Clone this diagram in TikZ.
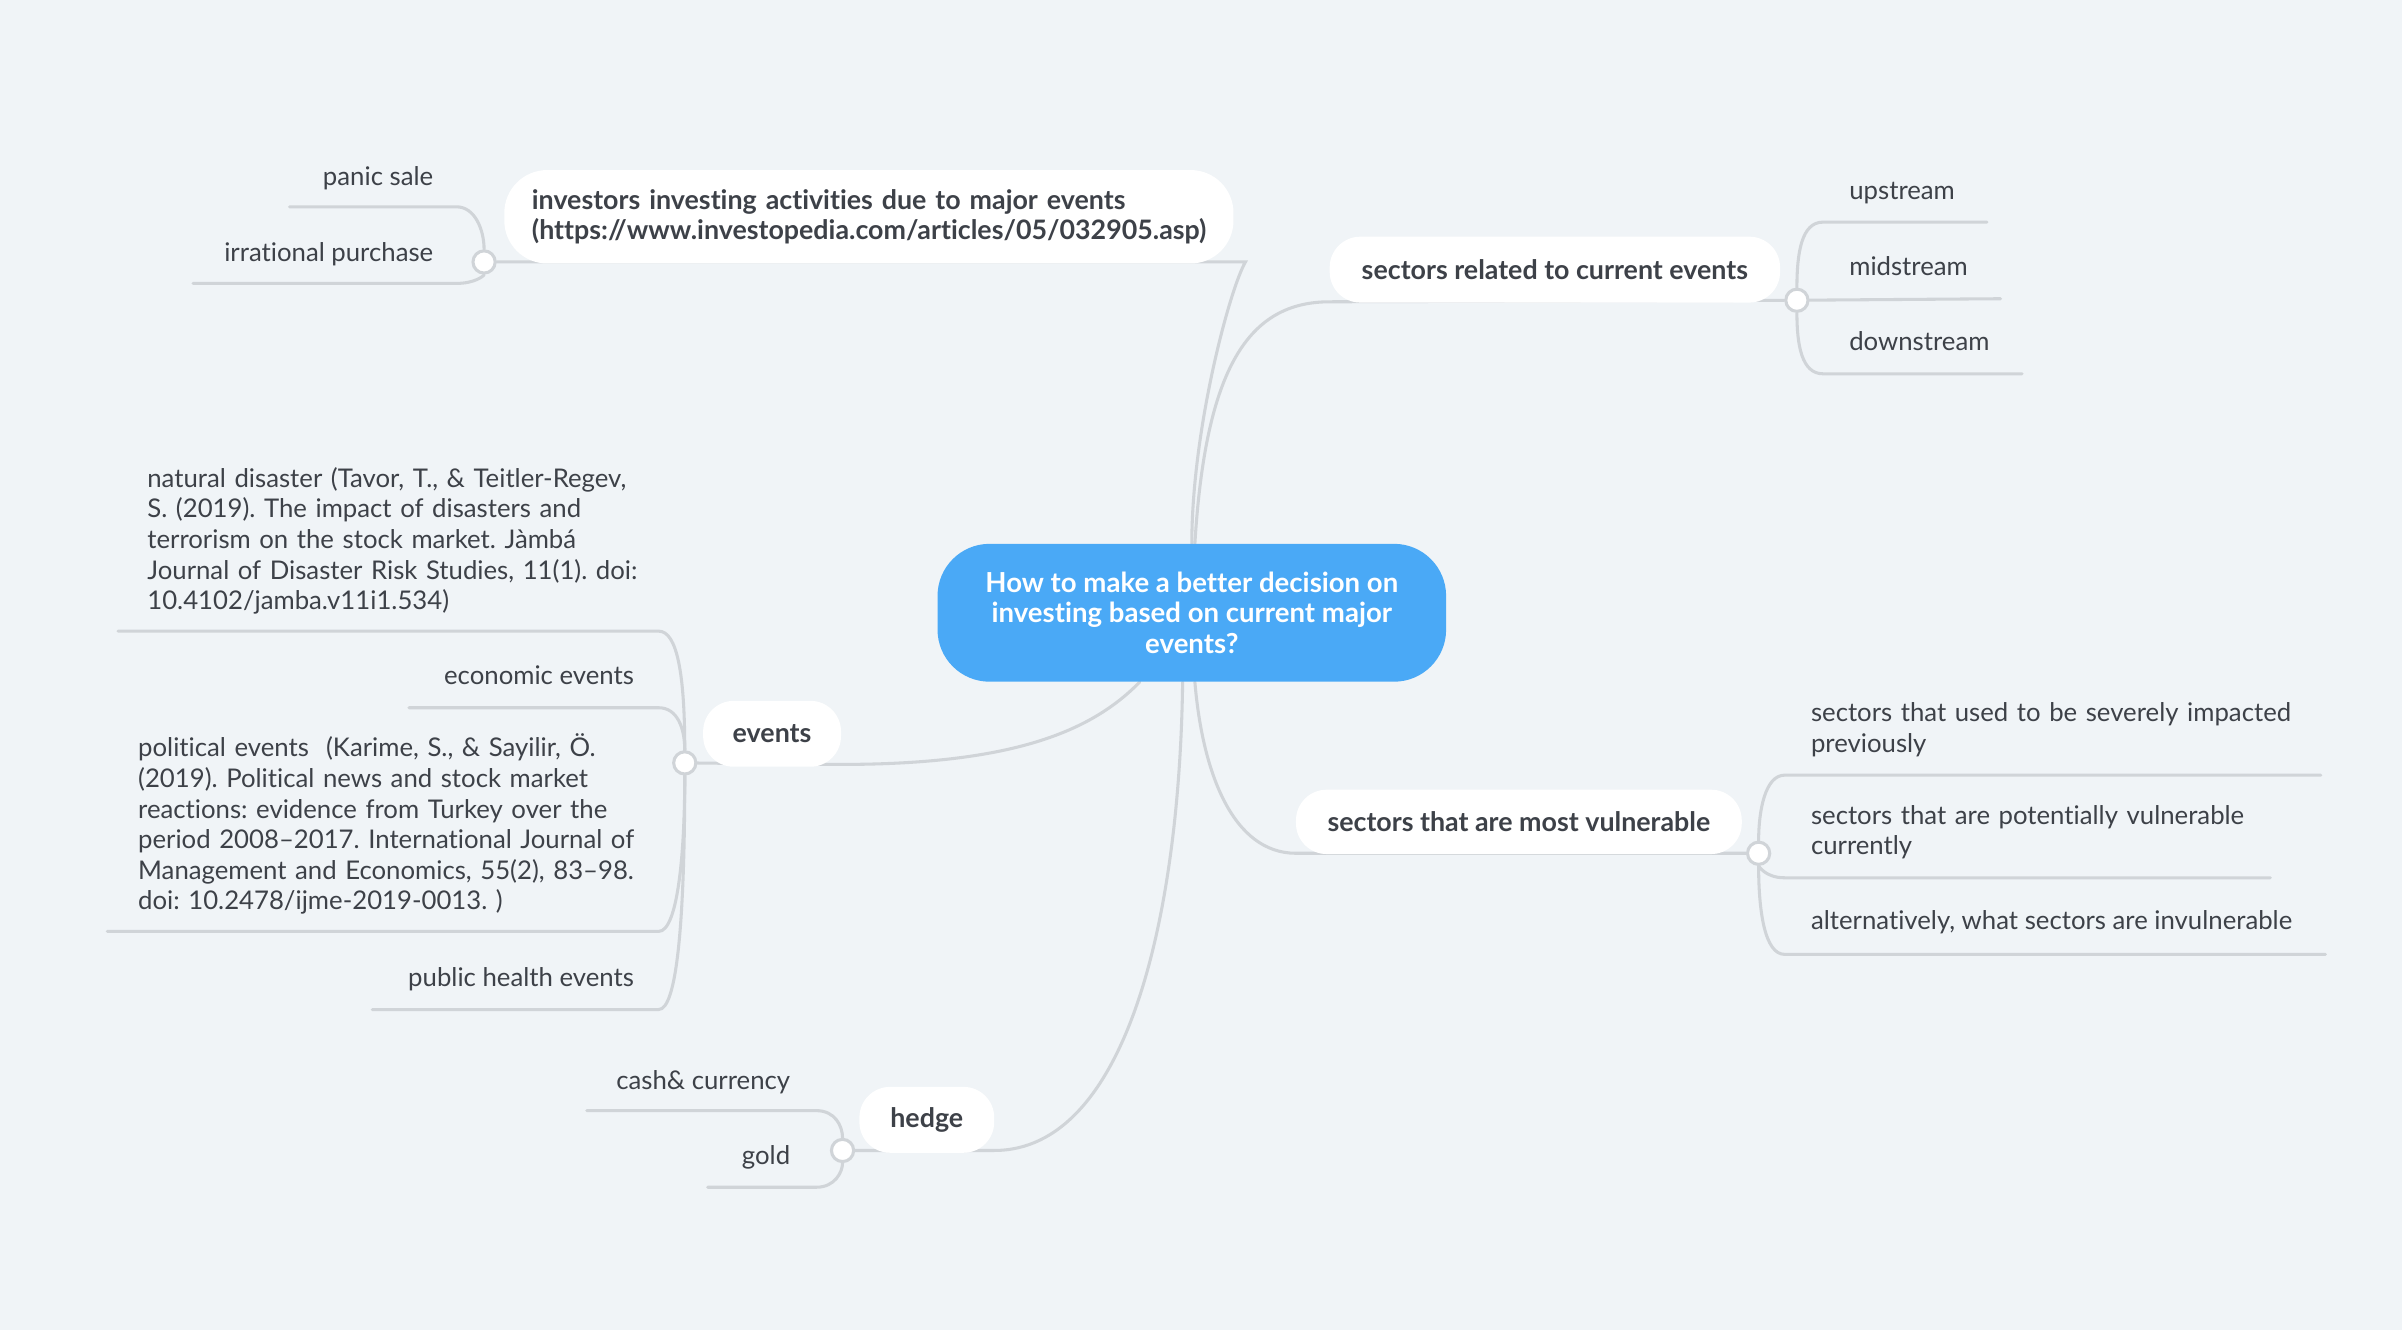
\documentclass[tikz,border=0pt]{standalone}
\usepackage{fontspec}
\setmainfont[Ligatures=NoCommon]{Lato}
\usetikzlibrary{backgrounds}
\definecolor{bg}{HTML}{F0F4F7}
\definecolor{ln}{HTML}{D0D4D8}
\definecolor{txt}{HTML}{3D4148}
\definecolor{ctrblue}{HTML}{4AA9F6}
\frenchspacing
\begin{document}
\begin{tikzpicture}[x=1pt,y=-1pt,
  leaf/.style={text=txt,font=\fontsize{16.8}{20}\selectfont,inner sep=0pt},
  pill/.style={fill=white,text=txt,font=\bfseries\fontsize{17.5}{20}\selectfont,inner xsep=0pt,inner ysep=0pt,rounded corners=20pt},
  hub/.style={circle,fill=white,draw=ln,line width=2pt,minimum size=14.5pt,inner sep=0pt},
  br/.style={draw=ln,line width=2pt,line cap=round}]
\useasboundingbox (0,0) rectangle (1568,868);
% central
\node[fill=ctrblue,text=white,font=\bfseries\fontsize{18}{20}\selectfont,align=center,minimum width=332pt,minimum height=90pt,rounded corners=34pt,inner sep=0pt] (ctr) at (778,400)
  {How to make a better decision on\\investing based on current major\\events?};
% branch pills
\node[pill,rounded corners=28pt,minimum height=61pt,text width=440pt,align=left,inner xsep=18pt,anchor=west] (inv) at (329,141.5)
  {investors investing activities due to major events\\(https://www.investopedia.com/articles/05/032905.asp)};
\node[pill,minimum width=294pt,minimum height=43pt] (sec) at (1015,176) {sectors related to current events};
\node[pill,minimum width=90pt,minimum height=43pt] (ev) at (504,479) {events};
\node[pill,minimum width=291pt,minimum height=42pt] (vul) at (991.5,536.5) {sectors that are most vulnerable};
\node[pill,minimum width=88pt,minimum height=43pt] (hed) at (605,731) {hedge};
% leaves
\node[leaf,anchor=base east] (panic) at (283,121) {panic sale};
\node[leaf,anchor=base east] (irr) at (283,171) {irrational purchase};
\node[leaf,anchor=base west] (up) at (1207,130) {upstream};
\node[leaf,anchor=base west] (mid) at (1207,180) {midstream};
\node[leaf,anchor=base west] (down) at (1207,229) {downstream};
\node[leaf,anchor=base west,text width=380pt,align=left] (nat) at (96,318)
  {natural disaster (Tavor, T., \& Teitler-Regev,\\S. (2019). The impact of disasters and\\terrorism on the stock market. Jàmbá\\Journal of Disaster Risk Studies, 11(1). doi:\\10.4102/jamba.v11i1.534)};
\node[leaf,anchor=base east] (eco) at (414,447) {economic events};
\node[leaf,anchor=base west,text width=380pt,align=left] (pol) at (90,494)
  {political events\ \ (Karime, S., \& Sayilir, Ö.\\(2019). Political news and stock market\\reactions: evidence from Turkey over the\\period 2008–2017. International Journal of\\Management and Economics, 55(2), 83–98.\\doi: 10.2478/ijme-2019-0013. )};
\node[leaf,anchor=base east] (pub) at (414,644) {public health events};
\node[leaf,anchor=base west,text width=380pt,align=left] (used) at (1182,471)
  {sectors that used to be severely impacted\\previously};
\node[leaf,anchor=base west,text width=380pt,align=left] (pot) at (1182,538)
  {sectors that are potentially vulnerable\\currently};
\node[leaf,anchor=base west] (alt) at (1182,607) {alternatively, what sectors are invulnerable};
\node[leaf,anchor=base east] (cash) at (516,711) {cash\& currency};
\node[leaf,anchor=base east] (gold) at (516,760) {gold};
% hubs
\node[hub] (cinv) at (316,171) {};
\node[hub] (csec) at (1173,196) {};
\node[hub] (cev) at (447,498) {};
\node[hub] (cvul) at (1148,557) {};
\node[hub] (ched) at (550,751) {};
% coordinates
\coordinate (invR) at (813,171);
\coordinate (secL) at (868,197);
\coordinate (evR) at (549,499);
\coordinate (vulL) at (846,557);
\coordinate (hedR) at (649,751);
\coordinate (panicL) at (189,135); \coordinate (panicR) at (298,135);
\coordinate (irrL) at (126,185); \coordinate (irrR) at (298,185);
\coordinate (upL) at (1190,145); \coordinate (upR) at (1297,145);
\coordinate (midR) at (1306,195);
\coordinate (downL) at (1190,244); \coordinate (downR) at (1320,244);
\coordinate (natL) at (77,412); \coordinate (natR) at (430,412);
\coordinate (ecoL) at (267,462); \coordinate (ecoR) at (430,462);
\coordinate (polL) at (70,608); \coordinate (polR) at (430,608);
\coordinate (pubL) at (243,659); \coordinate (pubR) at (430,659);
\coordinate (usedL) at (1165,506); \coordinate (usedR) at (1515,506);
\coordinate (potL) at (1165,573); \coordinate (potR) at (1482,573);
\coordinate (altL) at (1165,623); \coordinate (altR) at (1518,623);
\coordinate (cashL) at (383,725); \coordinate (cashR) at (533,725);
\coordinate (goldL) at (462,775); \coordinate (goldR) at (533,775);
\begin{pgfonlayer}{background}
\fill[bg] (0,0) rectangle (1568,868);
% main connectors
\draw[br] (ctr.north) .. controls (778,280) and (803,188) .. (invR) -- (cinv);
\draw[br] ([xshift=2pt]ctr.north) .. controls (787,240) and (815,197) .. (secL) -- (csec);
\draw[br] ([xshift=-34pt]ctr.south) .. controls (712,478) and (660,499) .. (evR) -- (cev);
\draw[br] ([xshift=2pt]ctr.south) .. controls (785,505) and (805,557) .. (vulL) -- (cvul);
\draw[br] ([xshift=-6pt]ctr.south) .. controls (770,600) and (735,751) .. (hedR) -- (ched);
% leaf connectors
\draw[br] (panicL) -- (panicR) .. controls (310,135) and (316,150) .. (cinv);
\draw[br] (irrL) -- (irrR) .. controls (310,185) and (316,180) .. (cinv);
\draw[br] (csec) .. controls (1173,165) and (1176,145) .. (upL) -- (upR);
\draw[br] (csec) -- (midR);
\draw[br] (csec) .. controls (1173,225) and (1176,244) .. (downL) -- (downR);
\draw[br] (natL) -- (natR) .. controls (442,412) and (447,440) .. (cev);
\draw[br] (ecoL) -- (ecoR) .. controls (442,462) and (447,475) .. (cev);
\draw[br] (polL) -- (polR) .. controls (442,608) and (447,560) .. (cev);
\draw[br] (pubL) -- (pubR) .. controls (442,659) and (447,600) .. (cev);
\draw[br] (cvul) .. controls (1148,530) and (1152,506) .. (usedL) -- (usedR);
\draw[br] (cvul) .. controls (1148,565) and (1152,573) .. (potL) -- (potR);
\draw[br] (cvul) .. controls (1148,595) and (1152,623) .. (altL) -- (altR);
\draw[br] (cashL) -- (cashR) .. controls (545,725) and (550,735) .. (ched);
\draw[br] (goldL) -- (goldR) .. controls (545,775) and (550,765) .. (ched);
\end{pgfonlayer}
\end{tikzpicture}
\end{document}
